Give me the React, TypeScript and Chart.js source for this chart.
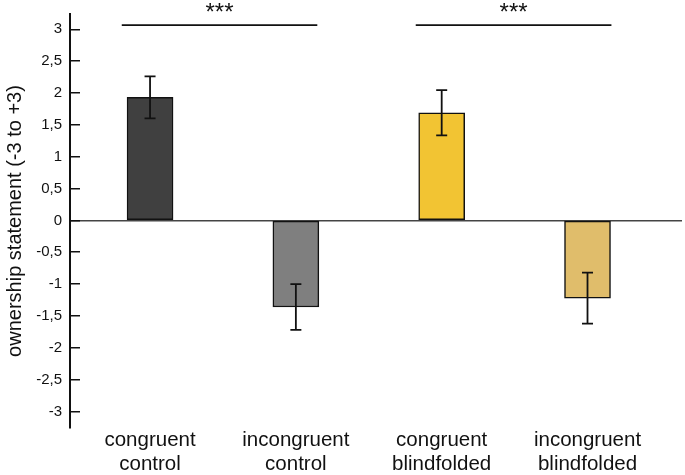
import React, { useEffect, useRef } from "react";
import { Chart, registerables } from "chart.js";

Chart.register(...registerables);

// ---- data ----
const categories: string[][] = [
  ["congruent", "control"],
  ["incongruent", "control"],
  ["congruent", "blindfolded"],
  ["incongruent", "blindfolded"],
];
const catX: number[] = [1, 2, 3, 4];
const means: number[] = [1.93, -1.36, 1.69, -1.22];
const errors: number[] = [0.33, 0.36, 0.355, 0.4];
const barColors: string[] = ["#404040", "#7f7f7f", "#f2c433", "#e0bd6b"];
const yTicks: number[] = [-3, -2.5, -2, -1.5, -1, -0.5, 0, 0.5, 1, 1.5, 2, 2.5, 3];
const sigFrom: number[] = [0.806, 2.822];
const sigTo: number[] = [2.147, 4.164];
const sigLevel: number[] = [3.066, 3.066];
const sigLabels: string[] = ["***", "***"];
const starLevel = 3.14;
const yTitle = "ownership statement (-3 to +3)";

const FONT = "'Liberation Sans', Arial, sans-serif";

const errorBarPlugin = {
  id: "errorBars",
  afterDatasetsDraw(chart: any) {
    const { ctx, scales } = chart;
    const xs = scales.x;
    const ys = scales.y;
    ctx.save();
    ctx.strokeStyle = "#111";
    ctx.lineWidth = 1.8;
    means.forEach((m, i) => {
      const x = xs.getPixelForValue(catX[i]);
      const yt = ys.getPixelForValue(m + errors[i]);
      const yb = ys.getPixelForValue(m - errors[i]);
      ctx.beginPath();
      ctx.moveTo(x, yt);
      ctx.lineTo(x, yb);
      ctx.moveTo(x - 5.5, yt);
      ctx.lineTo(x + 5.5, yt);
      ctx.moveTo(x - 5.5, yb);
      ctx.lineTo(x + 5.5, yb);
      ctx.stroke();
    });
    // significance stars
    ctx.fillStyle = "#111";
    ctx.font = `24px ${FONT}`;
    ctx.textAlign = "center";
    ctx.textBaseline = "alphabetic";
    sigLabels.forEach((s, i) => {
      const x = xs.getPixelForValue((sigFrom[i] + sigTo[i]) / 2);
      const y = ys.getPixelForValue(starLevel);
      ctx.fillText(s, x, y);
    });
    ctx.restore();
  },
};

export default function App() {
  const ref = useRef<HTMLCanvasElement | null>(null);

  useEffect(() => {
    document.body.style.margin = "0";
    if (!ref.current) return;
    const sigDatasets = sigFrom.map((f, i) => ({
      type: "line" as const,
      data: [
        { x: f, y: sigLevel[i] },
        { x: sigTo[i], y: sigLevel[i] },
      ],
      borderColor: "#111",
      borderWidth: 1.8,
      pointRadius: 0,
      fill: false,
    }));
    const chart = new Chart(ref.current, {
      type: "bar",
      data: {
        datasets: [
          {
            type: "bar",
            data: catX.map((x, i) => ({ x, y: means[i] })),
            backgroundColor: barColors,
            borderColor: "#111",
            borderWidth: 1.5,
            borderSkipped: false,
            barThickness: 46,
          } as any,
          ...sigDatasets,
        ],
      },
      options: {
        animation: false,
        responsive: false,
        layout: { padding: { top: 14, right: 3, left: 0, bottom: 0 } },
        plugins: {
          legend: { display: false },
          tooltip: { enabled: false },
        },
        scales: {
          x: {
            type: "linear",
            offset: false,
            min: 0.451,
            max: 4.648,
            afterBuildTicks: (scale: any) => {
              scale.ticks = catX.map((v) => ({ value: v }));
            },
            afterFit: (scale: any) => {
              scale.height = 47;
              scale.paddingLeft = 0;
              scale.paddingRight = 0;
            },
            grid: { display: false, drawTicks: false, offset: false },
            border: { display: false },
            ticks: {
              autoSkip: false,
              maxRotation: 0,
              minRotation: 0,
              padding: 1,
              color: "#111",
              font: { family: FONT, size: 20.5, lineHeight: 1.15 },
              callback: (v: any) => {
                const i = catX.indexOf(Number(v));
                return i >= 0 ? categories[i] : "";
              },
            },
          },
          y: {
            type: "linear",
            min: -3.26,
            max: 3.24,
            afterBuildTicks: (scale: any) => {
              scale.ticks = yTicks.map((v) => ({ value: v }));
            },
            afterFit: (scale: any) => {
              scale.width = 70;
              scale.paddingTop = 0;
              scale.paddingBottom = 0;
            },
            border: { display: true, color: "#111", width: 2 },
            grid: {
              drawTicks: true,
              tickLength: -10,
              tickColor: "#111",
              tickWidth: 1.5,
              lineWidth: 1.5,
              color: (ctx: any) =>
                ctx.tick && ctx.tick.value === 0 ? "#444" : "rgba(0,0,0,0)",
            },
            ticks: {
              autoSkip: false,
              padding: 18,
              color: "#111",
              font: { family: FONT, size: 15 },
              callback: (v: any) => String(v).replace(".", ","),
            },
            title: {
              display: true,
              text: yTitle,
              color: "#111",
              font: { family: FONT, size: 20 },
              padding: { top: 3, bottom: 0 },
            },
          },
        },
      },
      plugins: [errorBarPlugin],
    });
    return () => chart.destroy();
  }, []);

  return (
    <div style={{ width: 685, height: 475 }}>
      <canvas ref={ref} width={685} height={475} />
    </div>
  );
}
